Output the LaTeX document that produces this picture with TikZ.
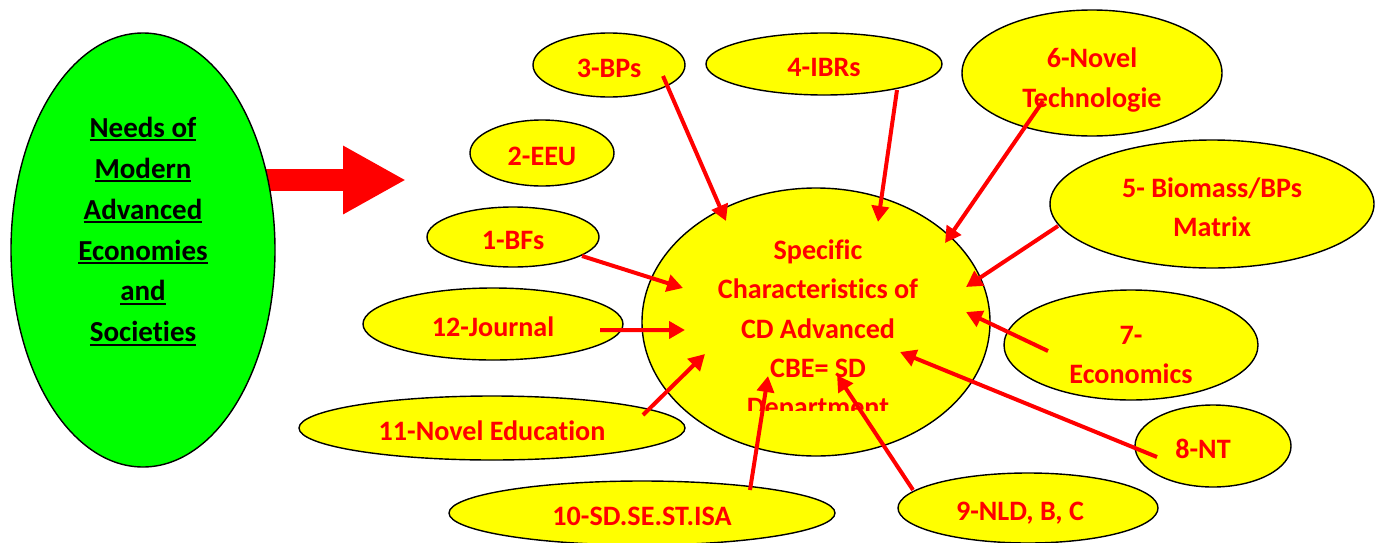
\documentclass[tikz,border=0pt]{standalone}
\usepackage{fontspec}
\setmainfont{Carlito}[Ligatures=NoCommon]
\usepackage{xcolor}
\usetikzlibrary{shapes.geometric,arrows.meta}
\definecolor{needgreen}{RGB}{0,255,0}
\definecolor{topicyellow}{RGB}{255,255,0}
\definecolor{linkred}{RGB}{255,0,0}
\newcommand{\needsul}[1]{\setbox0\hbox{#1}\rlap{\rule[-2.4pt]{\wd0}{1.1pt}}\box0}

\begin{document}
\begin{tikzpicture}[
    topic/.style={ellipse, draw=black, line width=0.8pt, fill=topicyellow, inner sep=0pt,
        text=linkred, font=\fontsize{16}{22.4}\selectfont\bfseries, align=center},
    oneline/.style={topic, text height=0.5cm, text depth=0pt},
    link/.style={linkred, line width=0.08cm, -{Triangle[length=0.32cm,width=0.34cm]}}
]
    \useasboundingbox (0,0) rectangle (27.54,10.84);

    % Big arrow out of the needs
    \coordinate (bigtail) at (5.3,7.24);
    \coordinate (bigtip) at (8.12,7.24);
    \draw[linkred, line width=0.44cm, -{Triangle[length=1.26cm,width=1.28cm]}] (bigtail) -- (bigtip);

    % Needs of modern societies
    \node[ellipse, draw=black, line width=0.8pt, fill=needgreen, minimum width=5.28cm, minimum height=8.68cm, inner sep=0pt] (needs) at (2.86,5.84) {};
    \node[font=\fontsize{16.5}{23.3}\selectfont\bfseries, align=center] (needstext) at (2.86,6.21)
        {\needsul{Needs of}\\ \needsul{Modern}\\ \needsul{Advanced}\\ \needsul{Economies}\\ \needsul{and}\\ \needsul{Societies}};

    % Surrounding topics
    \node[oneline, minimum width=3.44cm, minimum height=1.20cm] (bfs) at (10.26,6.10) {1-BFs};
    \node[oneline, minimum width=2.88cm, minimum height=1.32cm] (eeu) at (10.84,7.78) {2-EEU};
    \node[oneline, minimum width=3.04cm, minimum height=1.28cm] (bps) at (12.18,9.54) {3-BPs};
    \node[oneline, minimum width=4.72cm, minimum height=1.24cm] (ibrs) at (16.48,9.56) {4-IBRs};
    \node[topic, minimum width=6.48cm, minimum height=2.56cm] (biomass) at (24.24,6.76) {\rule{0pt}{0.52cm}5- Biomass/BPs\\Matrix};
    \node[topic, minimum width=5.20cm, minimum height=2.52cm] (technol) at (21.84,9.38) {\rule{0pt}{0.68cm}6-Novel\\Technologie};
    \node[topic, minimum width=5.08cm, minimum height=2.20cm] (econ) at (22.62,3.94) {\rule{0pt}{0.76cm}7-\\Economics};
    \node[oneline, minimum width=3.12cm, minimum height=1.64cm] (nt) at (24.26,1.92) {8-NT\hspace{0.4cm}};
    \node[oneline, minimum width=5.20cm, minimum height=1.40cm] (nld) at (20.56,0.68) {9-NLD, B, C\hspace{0.32cm}};
    \node[oneline, minimum width=7.72cm, minimum height=1.28cm] (sdse) at (12.84,0.58) {10-SD.SE.ST.ISA};
    \node[oneline, minimum width=7.72cm, minimum height=1.28cm] (edu) at (9.84,2.28) {11-Novel Education};
    \node[oneline, minimum width=5.20cm, minimum height=1.44cm] (journal) at (9.86,4.36) {12-Journal};

    % Centre
    \node[topic, minimum width=6.96cm, minimum height=5.36cm] (core) at (16.32,4.40) {};
    \begin{scope}
        \clip (12,2.64) rectangle (21,8);
        \node[text=linkred, font=\fontsize{16}{22.4}\selectfont\bfseries, align=center] (coretext) at (16.36,4.23)
            {Specific\\Characteristics of\\CD Advanced\\CBE= SD\\Department};
    \end{scope}

    % Links into the centre
    \draw[link] ([shift={(1.38,-0.38)}]bfs.center) -- ([shift={(-2.66,0.68)}]core.center);
    \draw[link] ([shift={(1.08,-0.22)}]bps.center) -- ([shift={(-1.80,2.02)}]core.center);
    \draw[link] ([shift={(1.46,-0.52)}]ibrs.center) -- ([shift={(1.24,2.00)}]core.center);
    \draw[link] ([shift={(-3.08,-0.44)}]biomass.center) -- ([shift={(3.00,0.70)}]core.center);
    \draw[link] ([shift={(-0.98,-0.56)}]technol.center) -- ([shift={(2.58,1.58)}]core.center);
    \draw[link] ([shift={(-1.66,-0.12)}]econ.center) -- ([shift={(3.00,0.20)}]core.center);
    \draw[link] ([shift={(-1.12,-0.22)}]nt.center) -- ([shift={(1.68,-0.60)}]core.center);
    \draw[link] ([shift={(-2.30,0.36)}]nld.center) -- ([shift={(0.42,-1.06)}]core.center);
    \draw[link] ([shift={(2.16,0.46)}]sdse.center) -- ([shift={(-0.96,-1.08)}]core.center);
    \draw[link] ([shift={(3.02,0.26)}]edu.center) -- ([shift={(-2.22,-0.64)}]core.center);
    \draw[link] ([shift={(2.14,-0.12)}]journal.center) -- ([shift={(-2.62,-0.16)}]core.center);
\end{tikzpicture}
\end{document}
